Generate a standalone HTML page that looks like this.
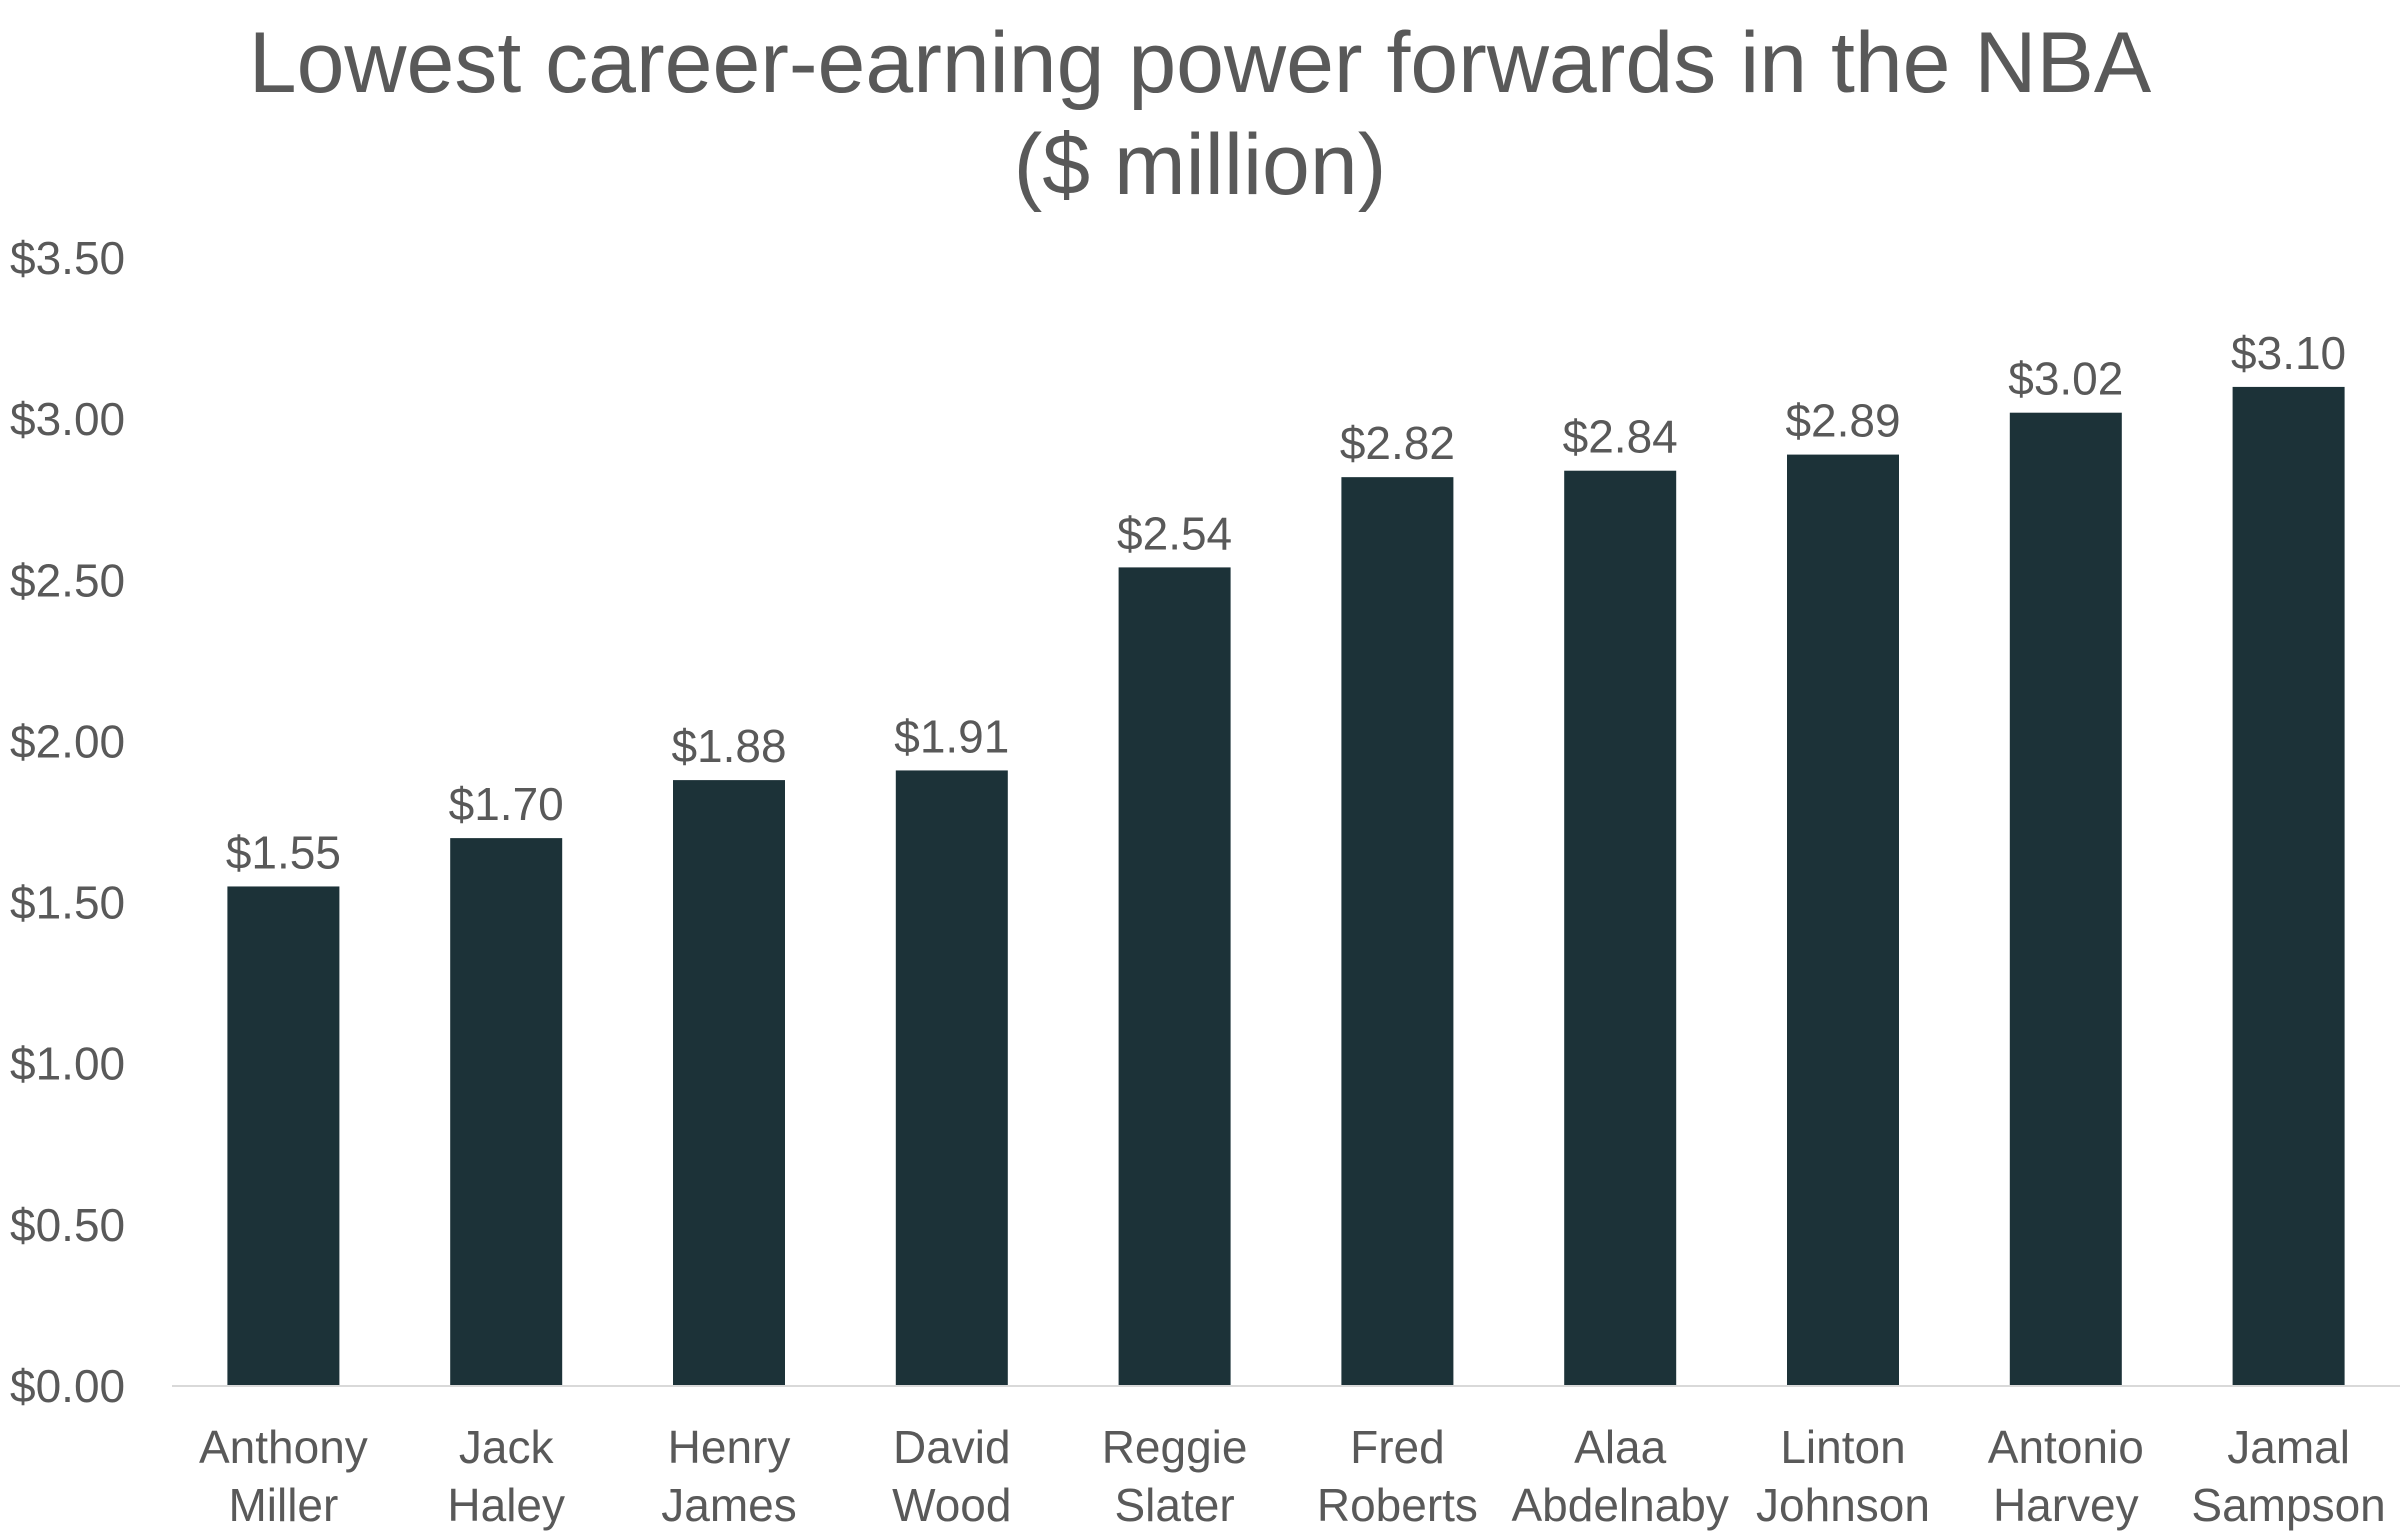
<!DOCTYPE html>
<html><head><meta charset="utf-8"><style>
html,body{margin:0;padding:0;background:#fff;}
svg{display:block;}
text{font-family:"Liberation Sans",sans-serif;fill:#595959;}
</style></head><body>
<svg id="chart" width="2400" height="1536" viewBox="0 0 2400 1536" xmlns="http://www.w3.org/2000/svg">
<text x="1200" y="92" font-size="86" text-anchor="middle">Lowest career-earning power forwards in the NBA</text>
<text x="1200" y="194" font-size="86" text-anchor="middle">($ million)</text>
<g id="axis"></g>
<g id="bars"></g>
<line x1="172" y1="1386" x2="2400" y2="1386" stroke="#d9d9d9" stroke-width="2"/>
</svg>
<script>
const categories = [["Anthony","Miller"],["Jack","Haley"],["Henry","James"],["David","Wood"],["Reggie","Slater"],["Fred","Roberts"],["Alaa","Abdelnaby"],["Linton","Johnson"],["Antonio","Harvey"],["Jamal","Sampson"]];
const values = [1.55,1.70,1.88,1.91,2.54,2.82,2.84,2.89,3.02,3.10];
const ticks = [0,0.5,1,1.5,2,2.5,3,3.5];
const NS="http://www.w3.org/2000/svg";
const x0=172, x1=2400, yBase=1386, yTop=258, vMax=3.5;
const slot=(x1-x0)/categories.length, bw=112;
function y(v){return yBase-(v/vMax)*(yBase-yTop);}
function xc(i){return x0+slot*(i+0.5);}
function mk(tag,attrs,txt){const e=document.createElementNS(NS,tag);for(const k in attrs)e.setAttribute(k,attrs[k]);if(txt!==undefined)e.textContent=txt;return e;}
const ax=document.getElementById('axis');
ticks.forEach(t=>{
  const e=mk('text',{x:10,y:y(t)+16,'font-size':46},'$'+t.toFixed(2));
  
  
  ax.appendChild(e);
});
const g=document.getElementById('bars');
values.forEach((v,i)=>{
  const r=mk('rect',{x:xc(i)-bw/2,y:y(v),width:bw,height:yBase-y(v),fill:'#1c3238'});
  
  
  g.appendChild(r);
  const l=mk('text',{x:xc(i),y:y(v)-18,'font-size':46,'text-anchor':'middle'},'$'+v.toFixed(2));
  
  
  g.appendChild(l);
  categories[i].forEach((w,j)=>{
    const c=mk('text',{x:xc(i),y:1463+j*58,'font-size':46,'text-anchor':'middle'},w);
    
    
    g.appendChild(c);
  });
});
</script>
</body></html>
